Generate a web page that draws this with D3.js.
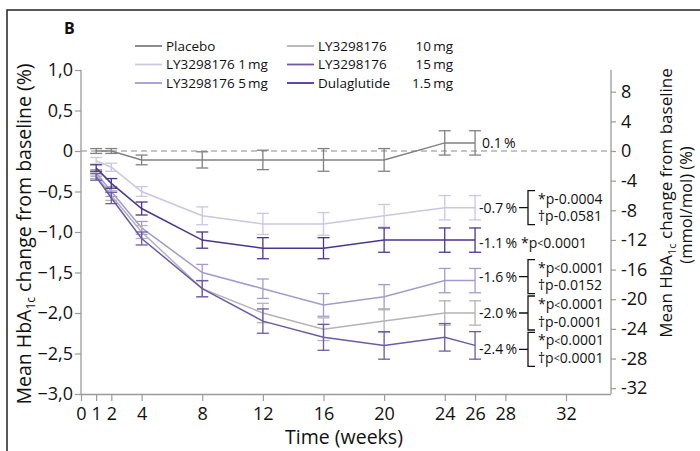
<!DOCTYPE html>
<html>
<head>
<meta charset="utf-8">
<script src="https://cdn.jsdelivr.net/npm/d3@7"></script>
<style>
  html, body { margin: 0; padding: 0; background: #fff; }
  svg { display: block; font-family: "Open Sans", "Noto Sans", sans-serif; }
</style>
</head>
<body>
<svg id="chart" width="700" height="451"></svg>
<script>
// ---------- data ----------
const weeks = [1, 2, 4, 8, 12, 16, 20, 24, 26];
const seriesNames = ["Placebo", "LY3298176 1 mg", "LY3298176 5 mg", "LY3298176 10 mg", "LY3298176 15 mg", "Dulaglutide 1.5 mg"];
const placebo    = [0.0, 0.0, -0.11, -0.11, -0.11, -0.11, -0.11, 0.1, 0.1];
const placeboErr = [0.03, 0.03, 0.06, 0.10, 0.12, 0.14, 0.14, 0.15, 0.15];
const ly1        = [-0.12, -0.2, -0.5, -0.8, -0.9, -0.9, -0.8, -0.7, -0.7];
const ly1Err     = [0.04, 0.05, 0.06, 0.11, 0.13, 0.14, 0.14, 0.15, 0.15];
const ly5        = [-0.27, -0.5, -0.95, -1.5, -1.7, -1.9, -1.8, -1.6, -1.6];
const ly5Err     = [0.04, 0.06, 0.08, 0.10, 0.12, 0.14, 0.15, 0.15, 0.15];
const ly10       = [-0.3, -0.55, -1.0, -1.7, -2.0, -2.2, -2.1, -2.0, -2.0];
const ly10Err    = [0.04, 0.06, 0.08, 0.10, 0.12, 0.14, 0.14, 0.15, 0.15];
const ly15       = [-0.32, -0.58, -1.08, -1.7, -2.1, -2.3, -2.4, -2.3, -2.4];
const ly15Err    = [0.04, 0.07, 0.08, 0.10, 0.15, 0.16, 0.17, 0.17, 0.17];
const dula       = [-0.21, -0.4, -0.71, -1.1, -1.2, -1.2, -1.1, -1.1, -1.1];
const dulaErr    = [0.04, 0.06, 0.08, 0.10, 0.13, 0.13, 0.15, 0.15, 0.15];

const xTicks = [0, 1, 2, 4, 8, 12, 16, 20, 24, 26, 28, 32];
const yTicks = [1, 0.5, 0, -0.5, -1, -1.5, -2, -2.5, -3];
const yRightTicks = [8, 4, 0, -4, -8, -12, -16, -20, -24, -28, -32];
const mmolPerPercent = 10.929;

// final-value annotations (label text, p-values)
const finalLabels = ["0.1 %", "-0.7 %", "-1.1 %", "-1.6 %", "-2.0 %", "-2.4 %"];
const pTop    = [null, "*p-0.0004", "*p<0.0001", "*p<0.0001", "*p<0.0001", "*p<0.0001"];
const pBottom = [null, "\u2020p-0.0581", null, "\u2020p-0.0152", "\u2020p-0.0001", "\u2020p<0.0001"];
const labelLevel = [0.1, -0.7, -1.13, -1.55, -2.0, -2.45];

// ---------- styles ----------
const colors = ["#808080", "#cbc6e2", "#a49bcd", "#b3b3b3", "#6c5aa9", "#4b3592"];
const axisColor = "#9a9a9a";

const svg = d3.select("#chart");

// frame
svg.append("path").attr("d", "M7,451 L7,10 L700,10").attr("fill", "none")
  .attr("stroke", "#222").attr("stroke-width", 1.5);

const x = d3.scaleLinear().domain([0, 32]).range([81, 566]);
const y = d3.scaleLinear().domain([-3, 1]).range([394, 70]);
const yR = d3.scaleLinear().domain([-3 * mmolPerPercent, 1 * mmolPerPercent]).range([394, 70]);
const xLeft = 81, xRight = 611;

// zero dashed line
svg.append("line").attr("x1", xLeft).attr("x2", xRight).attr("y1", y(0)).attr("y2", y(0))
  .attr("stroke", "#8a8a8a").attr("stroke-width", 1.2).attr("stroke-dasharray", "6,4");

// axes
const fmtLeft = d => d === 0 ? "0" : d3.format(".1f")(d).replace(".", ",");
const gL = svg.append("g").attr("transform", `translate(${xLeft},0)`)
  .call(d3.axisLeft(y).tickValues(yTicks).tickFormat(fmtLeft).tickSize(6).tickPadding(2).tickSizeOuter(0));
const gR = svg.append("g").attr("transform", `translate(${xRight},0)`)
  .call(d3.axisRight(yR).tickValues(yRightTicks).tickFormat(d => String(d)).tickSize(5).tickPadding(5).tickSizeOuter(0));
const gB = svg.append("g").attr("transform", `translate(0,394)`)
  .call(d3.axisBottom(x).tickValues(xTicks).tickFormat(d => String(d)).tickSize(7).tickPadding(6).tickSizeOuter(0));
gB.select(".domain").attr("d", `M${xLeft},0.5H${xRight}`);
[gL, gR, gB].forEach(g => {
  g.select(".domain").attr("stroke", axisColor).attr("stroke-width", 1.3);
  g.selectAll(".tick line").attr("stroke", axisColor).attr("stroke-width", 1.2);
  g.selectAll(".tick text").attr("fill", "#111").attr("font-size", 18)
    .attr("font-family", "'Open Sans', sans-serif");
});
gL.select(".domain").attr("d", `M-0,${y(1)}V394`);
gR.select(".domain").attr("d", `M0,${y(1)}V394`);

// axis titles
svg.append("text").attr("x", 344).attr("y", 444).attr("text-anchor", "middle")
  .attr("font-size", 19.5).attr("fill", "#111").text("Time (weeks)");

const lt = svg.append("text").attr("transform", "translate(31,234) rotate(-90)")
  .attr("text-anchor", "middle").attr("font-size", 19.5).attr("fill", "#111");
lt.append("tspan").text("Mean HbA");
lt.append("tspan").attr("font-size", 12).attr("dy", 4).text("1c");
lt.append("tspan").attr("dy", -4).text(" change from baseline (%)");

const rt = svg.append("text").attr("transform", "translate(672,203) rotate(-90)")
  .attr("text-anchor", "middle").attr("font-size", 17).attr("fill", "#111");
rt.append("tspan").text("Mean HbA");
rt.append("tspan").attr("font-size", 11).attr("dy", 4).text("1c");
rt.append("tspan").attr("dy", -4).text(" change from baseline");
svg.append("text").attr("transform", "translate(692,205) rotate(-90)")
  .attr("text-anchor", "middle").attr("font-size", 16.5).attr("fill", "#111").text("(mmol/mol) (%)");

// panel label
svg.append("text").attr("x", 64).attr("y", 33.5).attr("font-size", 16).attr("font-weight", "bold")
  .attr("fill", "#111").text("B");

// series
const allVals = [placebo, ly1, ly5, ly10, ly15, dula];
const allErr = [placeboErr, ly1Err, ly5Err, ly10Err, ly15Err, dulaErr];
const line = d3.line().x(d => x(d.w)).y(d => y(d.v));
const cap = 6;
allVals.forEach((vals, si) => {
  const pts = weeks.map((w, i) => ({ w, v: vals[i], e: allErr[si][i] }));
  const g = svg.append("g");
  g.append("path").datum(pts).attr("d", line).attr("fill", "none")
    .attr("stroke", colors[si]).attr("stroke-width", 1.5);
  const eb = g.selectAll("g.eb").data(pts).join("g").attr("class", "eb");
  eb.append("line").attr("x1", d => x(d.w)).attr("x2", d => x(d.w))
    .attr("y1", d => y(d.v + d.e)).attr("y2", d => y(d.v - d.e));
  eb.append("line").attr("x1", d => x(d.w) - cap).attr("x2", d => x(d.w) + cap)
    .attr("y1", d => y(d.v + d.e)).attr("y2", d => y(d.v + d.e));
  eb.append("line").attr("x1", d => x(d.w) - cap).attr("x2", d => x(d.w) + cap)
    .attr("y1", d => y(d.v - d.e)).attr("y2", d => y(d.v - d.e));
  eb.selectAll("line").attr("stroke", colors[si]).attr("stroke-width", 1.3);
});

// legend
const legendPos = [[135, 46], [135, 64.5], [135, 83], [287, 46], [287, 64.5], [287, 83]];
seriesNames.forEach((name, i) => {
  const [lx, ly] = legendPos[i];
  svg.append("line").attr("x1", lx).attr("x2", lx + 27).attr("y1", ly).attr("y2", ly)
    .attr("stroke", colors[i]).attr("stroke-width", 1.8);
  if (i < 3) {
    svg.append("text").attr("x", lx + 31).attr("y", ly + 4.8).attr("font-size", 13.5)
      .attr("fill", "#111").text(name.replace(" mg", "\u2009mg"));
  } else {
    const parts = name.split(/ (?=[\d.]+ mg)/);
    svg.append("text").attr("x", lx + 31).attr("y", ly + 4.8).attr("font-size", 13.5)
      .attr("fill", "#111").text(parts[0]);
    svg.append("text").attr("x", 453).attr("y", ly + 4.8).attr("font-size", 13.5)
      .attr("text-anchor", "end").attr("fill", "#111").text(parts[1].replace(" mg", "\u2009mg"));
  }
});

// annotations
function pText(sel, str) {
  const m = str.match(/^(.*p)([<-])(.*)$/);
  sel.append("tspan").text(m[1]);
  if (m[2] === "<") sel.append("tspan").attr("font-size", 10.5).attr("dy", -0.5).text("<");
  else sel.append("tspan").text("-");
  sel.append("tspan").attr("dy", m[2] === "<" ? 0.5 : 0).text(m[3]);
}
const labX = x(26) + 4;
const fs = 14;
finalLabels.forEach((lab, i) => {
  const cy = y(labelLevel[i]);
  svg.append("text").attr("x", i === 0 ? labX + 3 : labX).attr("y", cy + 5)
    .attr("font-size", fs).attr("fill", "#111").text(lab.replace(" %", "\u2009%"));
  if (pTop[i] && !pBottom[i]) {
    const t = svg.append("text").attr("x", 521).attr("y", cy + 5).attr("font-size", fs).attr("fill", "#111");
    pText(t, pTop[i]);
  } else if (pTop[i]) {
    const bx = 528;
    svg.append("path")
      .attr("d", `M519,${cy}H${bx} M${bx + 7},${cy - 17}H${bx}V${cy + 17}H${bx + 7}`)
      .attr("fill", "none").attr("stroke", "#111").attr("stroke-width", 1.3);
    const t1 = svg.append("text").attr("x", 538).attr("y", cy - 4).attr("font-size", fs).attr("fill", "#111");
    pText(t1, pTop[i]);
    const t2 = svg.append("text").attr("x", 538).attr("y", cy + 13.5).attr("font-size", fs).attr("fill", "#111");
    pText(t2, pBottom[i]);
  }
});
</script>
</body>
</html>
